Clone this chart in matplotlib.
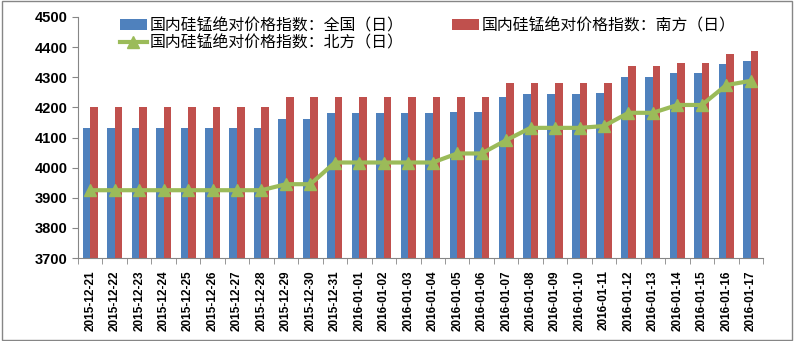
import matplotlib.pyplot as plt
import numpy as np

dates = [
    "2015-12-21", "2015-12-22", "2015-12-23", "2015-12-24", "2015-12-25",
    "2015-12-26", "2015-12-27", "2015-12-28", "2015-12-29", "2015-12-30",
    "2015-12-31", "2016-01-01", "2016-01-02", "2016-01-03", "2016-01-04",
    "2016-01-05", "2016-01-06", "2016-01-07", "2016-01-08", "2016-01-09",
    "2016-01-10", "2016-01-11", "2016-01-12", "2016-01-13", "2016-01-14",
    "2016-01-15", "2016-01-16", "2016-01-17",
]
national = [4130, 4130, 4130, 4130, 4130, 4130, 4130, 4130, 4160, 4160,
            4180, 4180, 4180, 4180, 4180, 4185, 4185, 4233, 4243, 4243,
            4243, 4247, 4300, 4300, 4313, 4313, 4343, 4353]
south = [4200, 4200, 4200, 4200, 4200, 4200, 4200, 4200, 4233, 4233,
         4233, 4233, 4233, 4233, 4233, 4233, 4233, 4280, 4280, 4280,
         4280, 4280, 4337, 4337, 4347, 4347, 4377, 4387]
north = [3925, 3925, 3925, 3925, 3925, 3925, 3925, 3925, 3945, 3945,
         4017, 4017, 4017, 4017, 4017, 4047, 4047, 4091, 4132, 4132,
         4132, 4138, 4182, 4182, 4208, 4208, 4274, 4288]

label_national = "国内硅锰绝对价格指数：全国（日）"
label_south = "国内硅锰绝对价格指数：南方（日）"
label_north = "国内硅锰绝对价格指数：北方（日）"

plt.rcParams["font.family"] = ["Liberation Sans", "Noto Sans CJK SC", "DejaVu Sans"]

fig = plt.figure(figsize=(7.94, 3.41), dpi=100)
ax = fig.add_axes([78 / 794, 1 - 258 / 341, (763 - 78) / 794, (258 - 17) / 341])

x = np.arange(len(dates))
w = 0.31
b1 = ax.bar(x - w / 2, np.array(national) - 3700, w, bottom=3700,
            color="#4F81BD", label=label_national)
b2 = ax.bar(x + w / 2, np.array(south) - 3700, w, bottom=3700,
            color="#C0504D", label=label_south)
l1, = ax.plot(x, north, color="#9BBB59", lw=3, marker="^", markersize=8,
              label=label_north)

ax.set_xlim(-0.5, len(dates) - 0.5)
ax.set_ylim(3700, 4500)
ax.set_yticks(range(3700, 4501, 100))
ax.set_xticks(x)
ax.set_xticklabels(dates, rotation=90, fontsize=8.5, fontweight="bold")
ax.set_xticks(np.arange(-0.5, len(dates), 1), minor=True)
ax.tick_params(axis="x", which="major", length=0, pad=9)
ax.tick_params(axis="x", which="minor", length=4, color="#868686")
ax.tick_params(axis="y", length=4, color="#868686", labelsize=10.5)
for t in ax.get_yticklabels():
    t.set_fontweight("bold")

for s in ["top", "right"]:
    ax.spines[s].set_visible(False)
for s in ["left", "bottom"]:
    ax.spines[s].set_color("#868686")

# column-wise fill: blue & green in column 1, red in column 2
fig.legend(handles=[b1, l1, b2], ncol=2, loc="upper left",
           bbox_to_anchor=(120 / 794, 1 - 17 / 341),
           bbox_transform=fig.transFigure, frameon=False,
           prop={"family": ["Noto Sans CJK SC"], "size": 11.4},
           borderpad=0, borderaxespad=0,
           handlelength=1.7, handletextpad=0.2, columnspacing=3.0,
           labelspacing=0.05)

fig.patches.append(plt.Rectangle((0.002, 0.003), 0.995, 0.993, transform=fig.transFigure,
                                 fill=False, edgecolor="#868686", lw=1))

fig.savefig("out.png", dpi=100)
